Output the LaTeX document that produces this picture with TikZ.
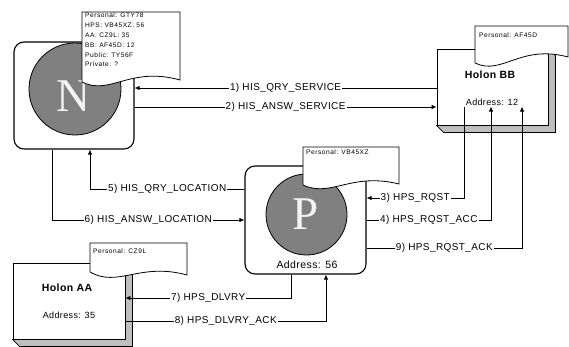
\documentclass[tikz,border=0pt]{standalone}
\usepackage{fontspec}
\setmainfont{Liberation Sans}[LetterSpace=4]
\newfontfamily\docfont{Liberation Sans}[LetterSpace=8]
\newfontfamily\bigserif{Liberation Serif}
\definecolor{discgray}{RGB}{128,128,128}
\definecolor{slabgray}{RGB}{190,190,190}
\usepackage{tikz}
\usetikzlibrary{arrows.meta,calc}

\begin{document}
\begin{tikzpicture}[
  x=1pt, y=-1pt,
  font=\fontsize{10}{12}\selectfont,
  holon/.style={draw,line width=1.1pt,rounded corners=10pt,fill=white},
  flatbox/.style={draw,line width=0.9pt,fill=white},
  slab/.style={draw,line width=0.8pt,fill=slabgray},
  disc/.style={circle,draw,line width=0.8pt,fill=discgray,inner sep=0pt},
  letter/.style={text=black!5,font=\bigserif\fontsize{47}{47}\selectfont,inner sep=0pt},
  doc/.style={draw,line width=0.8pt,fill=white},
  doctext/.style={anchor=north west,align=left,inner sep=0pt,
    font=\docfont\fontsize{6.6}{9.8}\selectfont},
  title/.style={font=\bfseries\fontsize{10.5}{12}\selectfont},
  addr/.style={font=\fontsize{9}{11}\selectfont,inner sep=1pt},
  conn/.style={-{Latex[length=5pt,width=4.5pt]},line width=0.8pt},
  lbl/.style={fill=white,inner sep=1pt}
]
\useasboundingbox (0,0) rectangle (569,347);

% holons with shadow slabs
\node[flatbox,minimum width=111pt,minimum height=76pt] (BB) at (492.5,87) {};
\filldraw[slab] (BB.north east) -- ++(7,7) -- ($(BB.south east)+(7,7)$)
  -- ($(BB.south west)+(7,7)$) -- (BB.south west) -- (BB.south east) -- cycle;
\node[flatbox,minimum width=112pt,minimum height=76pt] (AA) at (69,301) {};
\filldraw[slab] (AA.north east) -- ++(7,7) -- ($(AA.south east)+(7,7)$)
  -- ($(AA.south west)+(7,7)$) -- (AA.south west) -- (AA.south east) -- cycle;

% name server and proxy
\node[holon,minimum width=120pt,minimum height=107pt] (N) at (74,95.5) {};
\node[disc,minimum size=92pt] (Ndisc) at (75,89) {};
\node[letter] (Nlet) at (73,96) {N};
\node[holon,minimum width=121pt,minimum height=108pt] (P) at (305.5,220) {};
\node[disc,minimum size=81pt] (Pdisc) at (306.5,214.5) {};
\node[letter] (Plet) at (306,214.5) {P};
\node[font=\fontsize{10.5}{12}\selectfont] (paddr) at (307,265) {Address: 56};

% documents
\draw[doc] (82,82) -- (82,12) -- (180,12) -- (180,80)
  .. controls (130,66) and (110,96) .. (82,82);
\node[doctext] (Ndoc) at (85,13) {Personal: GTY78\\HPS: VB45XZ: 56\\AA: CZ9L: 35\\
  BB: AF45D: 12\\Public: TY56F\\Private: ?};
\draw[doc] (303,185) -- (303,147) -- (399,147) -- (399,184)
  .. controls (351,172) and (331,198) .. (303,185);
\node[doctext] (Pdoc) at (306,150) {Personal: VB45XZ};
\draw[doc] (475,63) -- (475,26) -- (568,26) -- (568,57)
  .. controls (520,44) and (502,76) .. (475,63);
\node[doctext] (BBdoc) at (479,33) {Personal: AF45D};
\draw[doc] (90,272) -- (90,243) -- (187,243) -- (187,275)
  .. controls (140,262) and (118,288) .. (90,272);
\node[doctext] (AAdoc) at (93,249) {Personal: CZ9L};

% holon texts
\node[title] (bbname) at (490,75) {Holon BB};
\node[addr] (bbaddr) at (492,102) {Address: 12};
\node[title] (aaname) at (67,288) {Holon AA};
\node[addr] (aaaddr) at (69,315) {Address: 35};

% rows and columns of the connectors
\path (0,88) coordinate (y1) (0,107) coordinate (y2) (0,198) coordinate (y3)
  (0,220) coordinate (y4) (0,248) coordinate (y9) (0,189) coordinate (y5)
  (0,220) coordinate (y6) (0,298) coordinate (y7) (0,321) coordinate (y8);
\path (464,0) coordinate (x3) (491,0) coordinate (x4) (522,0) coordinate (x9)
  (90,0) coordinate (x5) (52,0) coordinate (x6) (291,0) coordinate (x7)
  (326,0) coordinate (x8);

\draw[conn] (BB.west |- y1) -- node[lbl] {1) HIS\_QRY\_SERVICE} (N.east |- y1);
\draw[conn] (N.east |- y2) -- node[lbl] {2) HIS\_ANSW\_SERVICE} (BB.west |- y2);
\draw[conn] (x3 |- bbaddr.south) -- (x3 |- y3) -- node[lbl] {3) HPS\_RQST} (P.east |- y3);
\draw[conn] (P.east |- y4) -- node[lbl] {4) HPS\_RQST\_ACC} (x4 |- y4) -- (x4 |- bbaddr.south);
\draw[conn] (P.east |- y9) -- node[lbl] {9) HPS\_RQST\_ACK} (x9 |- y9) -- (x9 |- bbaddr.south);
\draw[conn] (P.west |- y5) -- node[lbl] {5) HIS\_QRY\_LOCATION} (x5 |- y5) -- (x5 |- N.south);
\draw[conn] (x6 |- N.south) -- (x6 |- y6) -- node[lbl] {6) HIS\_ANSW\_LOCATION} (P.west |- y6);
\draw[conn] (x7 |- P.south) -- (x7 |- y7) -- node[lbl] {7) HPS\_DLVRY} (AA.east |- y7);
\draw[conn] (AA.east |- y8) -- node[lbl] {8) HPS\_DLVRY\_ACK} (x8 |- y8) -- (x8 |- P.south);
\end{tikzpicture}
\end{document}
